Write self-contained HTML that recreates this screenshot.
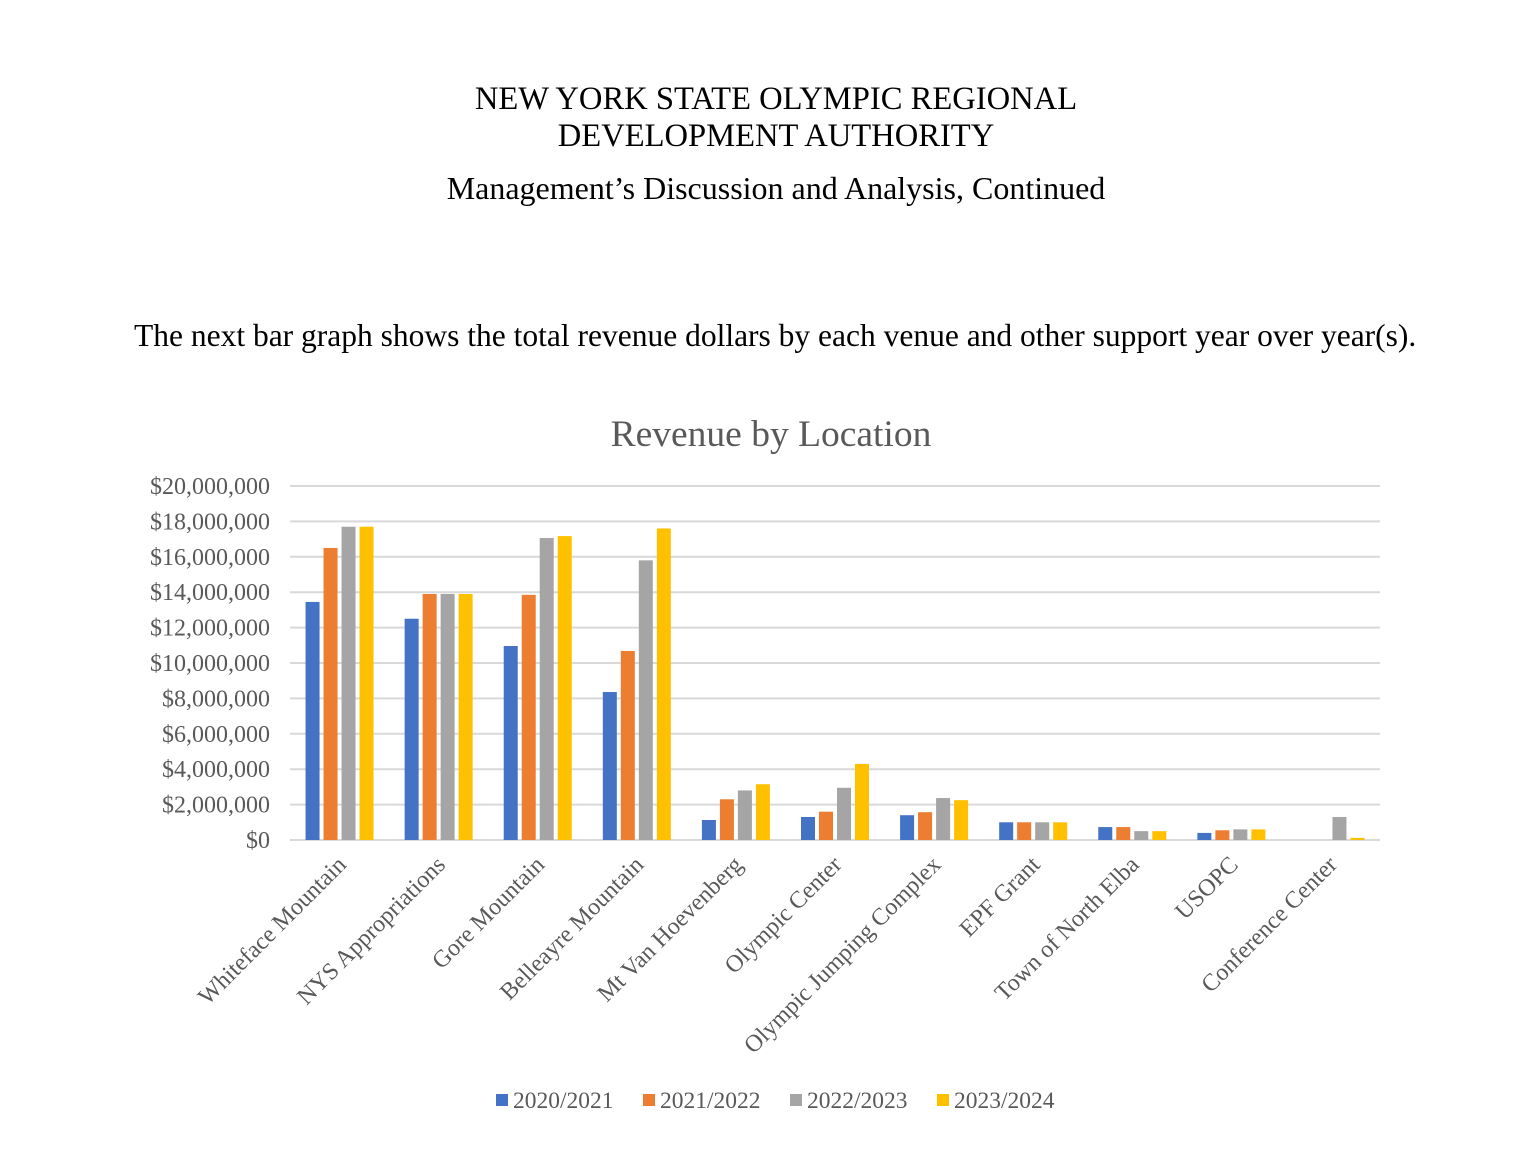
<!DOCTYPE html>
<html><head><meta charset="utf-8"><style>
body{margin:0;background:#fff;width:1520px;height:1150px;overflow:hidden;font-family:"Liberation Serif",serif;}
.t{position:absolute;left:0;width:1552px;text-align:center;color:#000;}
</style></head><body>
<div class="t" style="top:81px;font-size:32.6px;line-height:37px;">NEW YORK STATE OLYMPIC REGIONAL<br>DEVELOPMENT AUTHORITY</div>
<div class="t" style="top:170px;font-size:32px;">Management’s Discussion and Analysis, Continued</div>
<div style="position:absolute;left:134px;top:318px;font-size:31.5px;white-space:nowrap;">The next bar graph shows the total revenue dollars by each venue and other support year over year(s).</div>
<svg id="chart" width="1520" height="1150" style="position:absolute;left:0;top:0" font-family="Liberation Serif, serif"></svg>
<script>
const categories=["Whiteface Mountain","NYS Appropriations","Gore Mountain","Belleayre Mountain","Mt Van Hoevenberg","Olympic Center","Olympic Jumping Complex","EPF Grant","Town of North Elba","USOPC","Conference Center"];
const seriesNames=["2020/2021","2021/2022","2022/2023","2023/2024"];
const s2021=[13.45,12.5,10.96,8.36,1.13,1.3,1.4,1.0,0.73,0.4,0];
const s2022=[16.5,13.9,13.85,10.68,2.3,1.6,1.57,1.0,0.73,0.55,0];
const s2023=[17.7,13.9,17.06,15.8,2.8,2.95,2.37,1.0,0.5,0.6,1.3];
const s2024=[17.7,13.9,17.17,17.6,3.15,4.3,2.25,1.0,0.5,0.6,0.12];
const ticks=[0,2,4,6,8,10,12,14,16,18,20];
const colors=["#4472C4","#ED7D31","#A5A5A5","#FFC000"];
const svg=document.getElementById('chart');const NS="http://www.w3.org/2000/svg";
const x0=290,x1=1380,y0=840,y1=486;
const yS=v=>y0-(v/20)*(y0-y1);
const cw=(x1-x0)/categories.length;
function mk(t,a){const e=document.createElementNS(NS,t);for(const k in a)e.setAttribute(k,a[k]);svg.appendChild(e);return e;}
const title=mk('text',{x:771,y:446,'text-anchor':'middle','font-size':37.5,fill:'#595959'});title.textContent="Revenue by Location";


ticks.forEach(v=>{
 const l=mk('line',{x1:x0,x2:x1,y1:yS(v),y2:yS(v),stroke:'#d9d9d9','stroke-width':2});
 
 
 const t=mk('text',{x:270,y:yS(v)+8,'text-anchor':'end','font-size':24,fill:'#595959'});
 t.textContent=v===0?"$0":"$"+(v*1000000).toLocaleString('en-US');
 
 
});
const series=[s2021,s2022,s2023,s2024];
categories.forEach((c,i)=>{
 const cx=x0+cw*(i+0.5);
 series.forEach((s,j)=>{
  const v=s[i];if(v<=0)return;
  const r=mk('rect',{x:cx-34+j*18,y:yS(v),width:14,height:y0-yS(v),fill:colors[j]});
  
  
 });
 const t=mk('text',{x:cx+8,y:866,'text-anchor':'end','font-size':24,fill:'#595959',transform:`rotate(-45 ${cx+8} 866)`});
 t.textContent=c;
 
 
});
const lx=[496,643,790,937];
seriesNames.forEach((n,j)=>{
 const r=mk('rect',{x:lx[j],y:1094,width:12,height:12,fill:colors[j]});
 
 
 const t=mk('text',{x:lx[j]+17,y:1108,'font-size':23.5,fill:'#595959'});t.textContent=n;
 
 
});
</script>
</body></html>
